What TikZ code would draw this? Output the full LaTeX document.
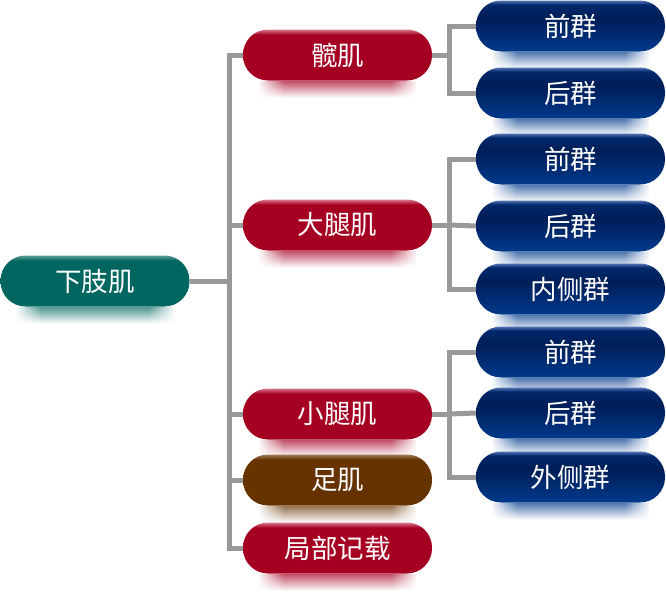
\documentclass[tikz,border=0pt]{standalone}
\usepackage{fontspec}
\setmainfont{Noto Sans CJK SC}
\usetikzlibrary{backgrounds,fadings}

\definecolor{tealA}{HTML}{00665F}
\definecolor{tealT}{HTML}{5E9C97}
\definecolor{redA}{HTML}{A50021}
\definecolor{redT}{HTML}{D8788C}
\definecolor{brownA}{HTML}{663300}
\definecolor{brownT}{HTML}{A07A58}
\definecolor{blueA}{HTML}{003A8C}
\definecolor{blueB}{HTML}{00286C}
\definecolor{blueC}{HTML}{001E58}
\definecolor{blueT}{HTML}{5674B4}
\definecolor{lineGray}{HTML}{999999}

\pgfdeclareverticalshading{tealSh}{100bp}{color(0bp)=(tealA); color(70bp)=(tealA); color(75bp)=(tealT); color(100bp)=(tealT)}
\pgfdeclareverticalshading{redSh}{100bp}{color(0bp)=(redA); color(70bp)=(redA); color(75bp)=(redT); color(100bp)=(redT)}
\pgfdeclareverticalshading{brownSh}{100bp}{color(0bp)=(brownA); color(70bp)=(brownA); color(75bp)=(brownT); color(100bp)=(brownT)}
\pgfdeclareverticalshading{blueSh}{100bp}{color(0bp)=(blueA); color(25bp)=(blueA); color(45bp)=(blueB); color(58bp)=(blueC); color(71bp)=(blueB); color(75bp)=(blueT); color(100bp)=(blueT)}

\tikzfading[name=reflfade, top color=transparent!30, bottom color=transparent!100]
\tikzfading[name=fadeL, left color=transparent!0, right color=transparent!100]
\tikzfading[name=fadeR, left color=transparent!100, right color=transparent!0]

\tikzset{
  pill/.style={rounded corners=25pt, minimum width=189pt, minimum height=51pt, inner sep=0pt, text=white, font=\fontsize{26.5}{26.5}\selectfont},
  rootbox/.style={pill, shade, shading=tealSh},
  partbox/.style={pill, shade, shading=redSh},
  footbox/.style={pill, shade, shading=brownSh},
  grpbox/.style={pill, shade, shading=blueSh},
  conn/.style={draw=lineGray, line width=5pt}
}

\newcommand\myRefl[2]{%
  \fill[#2, path fading=reflfade] ([xshift=16pt]#1.south west) rectangle ([xshift=-16pt,yshift=-17pt]#1.south east);
  \fill[white, path fading=fadeL] ([xshift=15pt]#1.south west) rectangle ++(26pt,-18pt);
  \fill[white, path fading=fadeR] ([xshift=-15pt]#1.south east) rectangle ++(-26pt,-18pt);}

\begin{document}
\begin{tikzpicture}[x=1pt, y=-1pt]
		\useasboundingbox (0,0) rectangle (666,592);
		\def\myParts{hip/55/髋肌, thigh/225/大腿肌, leg/414/小腿肌, local/548/局部记载}
		\def\myGroups{hipA/26/前群, hipB/93/后群, thighA/159/前群, thighB/226/后群, thighC/289/内侧群, legA/352/前群, legB/413/后群, legC/477/外侧群}
		\node[rootbox] (root) at (95,281) {下肢肌};
		\foreach \name/\y/\txt in \myParts
		\node[partbox] (\name) at (337.5,\y) {\txt};
		\node[footbox] (foot) at (337.5,480) {足肌};
		\foreach \name/\y/\txt in \myGroups
		\node[grpbox] (\name) at (570.5,\y) {\txt};
		\begin{scope}[on background layer]
			\foreach \n/\c in {root/tealA, hip/redA, thigh/redA, leg/redA, foot/brownA, local/redA}
			\myRefl{\n}{\c};
			\foreach \n in {hipA, hipB, thighA, thighB, thighC, legA, legB, legC}
			\myRefl{\n}{blueA};
			% trunk and branches
			\coordinate (trunk) at (229.5,281);
			\draw[conn] (root) -- (trunk);
			\foreach \n in {hip, thigh, leg, foot, local}
			\draw[conn] (trunk) |- (\n.west);
			\foreach \p/\a/\b in {hip/hipA/hipB, thigh/thighA/thighC, leg/legA/legC}
			{
				\coordinate (\p bus) at (449.5,0 |- \p.east);
				\draw[conn] (\p.east) -- (\p bus);
				\draw[conn] (\p bus) |- (\a.west);
				\draw[conn] (\p bus) |- (\b.west);
			}
			\draw[conn] (thighbus) -- (thighB.west);
			\draw[conn] (legbus) -- (legB.west);
		\end{scope}
	\end{tikzpicture}
\end{document}
